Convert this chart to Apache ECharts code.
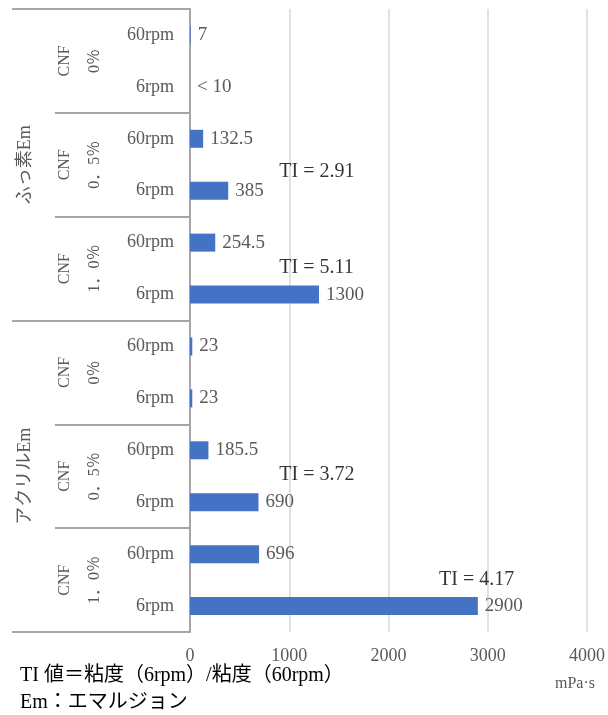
<!DOCTYPE html>
<html>
<head>
<meta charset="utf-8">
<script src="https://cdn.jsdelivr.net/npm/echarts@6/dist/echarts.min.js"></script>
<style>
html, body { margin: 0; padding: 0; background: #fff; }
#chart { width: 608px; height: 715px; }
</style>
</head>
<body>
<div id="chart"></div>
<script>
// 回転数（いちばん内側のラベル）
var rpmLabels = ['60rpm', '6rpm', '60rpm', '6rpm', '60rpm', '6rpm',
                 '60rpm', '6rpm', '60rpm', '6rpm', '60rpm', '6rpm'];
// CNF添加量
var cnfLabels = ['CNF\n0％', 'CNF\n0．5％', 'CNF\n1．0％', 'CNF\n0％', 'CNF\n0．5％', 'CNF\n1．0％'];
// エマルジョンの種類
var emLabels = ['ふっ素Em', 'アクリルEm'];
// 粘度 mPa·s（< 10 は 0 で描く）
var viscosity = [7, 0, 132.5, 385, 254.5, 1300, 23, 23, 185.5, 690, 696, 2900];
var valueLabels = ['7', '< 10', '132.5', '385', '254.5', '1300', '23', '23', '185.5', '690', '696', '2900'];
// TI値 = 6rpm / 60rpm
var tiRows = [3, 5, 9, 11];
var tiValues = ['2.91', '5.11', '3.72', '4.17'];
var xTicks = [0, 1000, 2000, 3000, 4000];

// TIの文字の置き場所（x は軸の値, lift は棒からの持ち上げpx）
var tiAt = [900, 900, 900, 2510];
var tiLift = [19, 27, 27, 26];

var FONT = "'Liberation Serif', 'Noto Sans CJK JP', serif";
var GRAY = '#595959';
var LINE = '#a6a6a6';

var myChart = echarts.init(document.getElementById('chart'));

var tiData = tiRows.map(function (row, i) {
  return {
    value: [tiAt[i], row],
    label: { offset: [0, -tiLift[i]] },
    name: 'TI = ' + tiValues[i]
  };
});

myChart.setOption({
  animation: false,
  grid: { left: 190, right: 20, top: 9, bottom: 83, containLabel: false },
  xAxis: {
    type: 'value',
    min: xTicks[0],
    max: xTicks[xTicks.length - 1],
    interval: xTicks[1] - xTicks[0],
    axisLine: { show: false },
    axisTick: { show: false },
    splitLine: { lineStyle: { color: '#d9d9d9', width: 1.5 } },
    axisLabel: {
      fontFamily: FONT, fontSize: 18, color: GRAY, margin: 15,
      formatter: function (v) { return String(v); }
    }
  },
  yAxis: [
    {
      type: 'category',
      position: 'left',
      offset: 0,
      inverse: true,
      data: rpmLabels,
      axisLine: { lineStyle: { color: LINE, width: 2 } },
      axisTick: { show: false },
      axisLabel: { fontFamily: FONT, fontSize: 18, color: GRAY, margin: 16 }
    },
    {
      type: 'category',
      position: 'left',
      offset: 0,
      inverse: true,
      data: cnfLabels,
      axisLine: { show: false },
      axisTick: { show: true, interval: 0, length: 135, lineStyle: { color: LINE, width: 2 } },
      axisLabel: { rotate: 90, fontFamily: FONT, fontSize: 16, lineHeight: 30, color: GRAY, margin: 80 }
    },
    {
      type: 'category',
      position: 'left',
      offset: 0,
      inverse: true,
      data: emLabels,
      axisLine: { show: false },
      axisTick: { show: true, interval: 0, length: 178, lineStyle: { color: LINE, width: 2 } },
      axisLabel: { rotate: 90, fontFamily: FONT, fontSize: 18, lineHeight: 20, color: GRAY, margin: 155 }
    }
  ],
  series: [
    {
      type: 'bar',
      yAxisIndex: 0,
      data: viscosity,
      barWidth: 18,
      itemStyle: { color: '#4472c4' },
      label: {
        show: true,
        position: 'right',
        distance: 7,
        fontFamily: FONT,
        fontSize: 19,
        color: GRAY,
        formatter: function (p) { return valueLabels[p.dataIndex]; }
      }
    },
    {
      type: 'scatter',
      yAxisIndex: 0,
      symbolSize: 0,
      silent: true,
      data: tiData,
      label: {
        show: true,
        position: 'right',
        distance: 0,
        fontFamily: FONT,
        fontSize: 20,
        color: '#000',
        formatter: '{b}'
      }
    }
  ],
  graphic: [
    {
      type: 'text', left: 555, top: 676,
      style: { text: 'mPa·s', font: '16px ' + FONT, fill: GRAY }
    },
    {
      type: 'text', left: 20, top: 666,
      style: { text: 'TI 値＝粘度（6rpm）/粘度（60rpm）', font: '20px ' + FONT, fill: '#000' }
    },
    {
      type: 'text', left: 20, top: 693,
      style: { text: 'Em：エマルジョン', font: '20px ' + FONT, fill: '#000' }
    }
  ]
});
</script>
</body>
</html>
